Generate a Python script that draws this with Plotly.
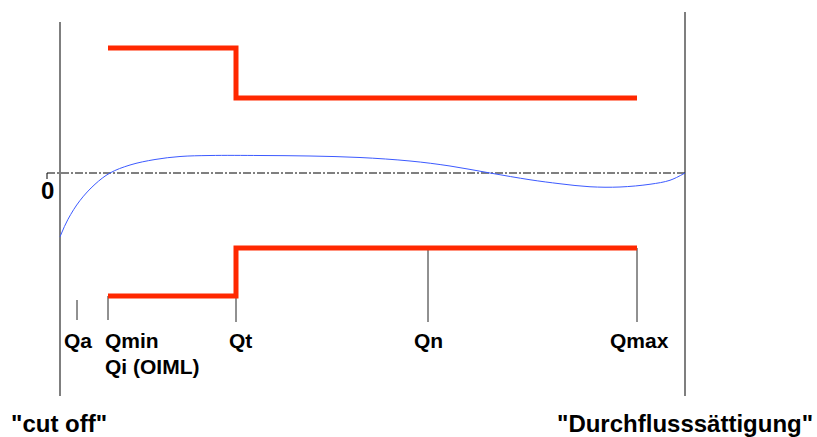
import plotly.graph_objects as go

# Schematic flow positions (arbitrary flow axis units)
flow_names = ["Qa", "Qmin", "Qt", "Qn", "Qmax"]
flow_pos = [77, 108, 236, 428, 637]
x_cutoff = 60
x_saturation = 685

# Error limits (%)
upper_limit_low = 5.0   # between Qmin and Qt
upper_limit_high = 3.0  # between Qt and Qmax
lower_limit_low = -4.92
lower_limit_high = -3.0

# Typical meter error curve (%)
curve_x = [60, 68, 80, 95, 110, 130, 155, 180, 210, 260, 310, 360, 410, 450, 490, 530, 560, 590, 620, 650, 670, 685]
curve_y = [-2.55, -1.85, -1.1, -0.45, 0.0, 0.32, 0.54, 0.66, 0.70, 0.70, 0.68, 0.62, 0.48, 0.28, 0.0, -0.27, -0.43, -0.55, -0.56, -0.45, -0.29, 0.0]

RED = "rgb(255,40,0)"
FONT = "Liberation Sans, Arial, sans-serif"

fig = go.Figure()

qmin, qt, qmax = flow_pos[1], flow_pos[2], flow_pos[4]

# boundary lines
fig.add_trace(go.Scatter(x=[x_cutoff, x_cutoff], y=[6.04, -8.92], mode="lines",
                         line=dict(color="#555555", width=1.5), hoverinfo="skip"))
fig.add_trace(go.Scatter(x=[x_saturation, x_saturation], y=[6.44, -8.92], mode="lines",
                         line=dict(color="#555555", width=1.5), hoverinfo="skip"))

# zero line
fig.add_trace(go.Scatter(x=[47, x_saturation], y=[0, 0], mode="lines",
                         line=dict(color="black", width=1, dash="8px,2px,2px,2px"), hoverinfo="skip"))
fig.add_trace(go.Scatter(x=[47, 47], y=[-0.24, 0], mode="lines",
                         line=dict(color="black", width=1), hoverinfo="skip"))

# flow tick lines
tick_tops = [-5.08, lower_limit_low, lower_limit_low, lower_limit_high, lower_limit_high]
tick_bottoms = [-5.88, -5.88, -5.96, -5.96, -5.96]
for xp, t, b in zip(flow_pos, tick_tops, tick_bottoms):
    fig.add_trace(go.Scatter(x=[xp, xp], y=[t, b], mode="lines",
                             line=dict(color="#222222", width=1), hoverinfo="skip"))

# error limits
fig.add_trace(go.Scatter(x=[qmin, qt, qt, qmax],
                         y=[upper_limit_low, upper_limit_low, upper_limit_high, upper_limit_high],
                         mode="lines", line=dict(color=RED, width=5), hoverinfo="skip"))
fig.add_trace(go.Scatter(x=[qmin, qt, qt, qmax],
                         y=[lower_limit_low, lower_limit_low, lower_limit_high, lower_limit_high],
                         mode="lines", line=dict(color=RED, width=5), hoverinfo="skip"))

# error curve
fig.add_trace(go.Scatter(x=curve_x, y=curve_y, mode="lines", line_shape="spline",
                         line=dict(color="rgb(60,90,255)", width=1), hoverinfo="skip"))

def ann(text, x, y, size, xanchor="center"):
    fig.add_annotation(x=x, y=y, text=text, showarrow=False, xanchor=xanchor, yanchor="middle",
                       font=dict(family=FONT, size=size, color="black", weight="bold"))

ann("Qa", 78, -6.68, 21)
ann("Qmin", 103, -6.68, 21, "left")
ann("Qi (OIML)", 103, -7.72, 21, "left")
ann("Qt", 240, -6.68, 21)
ann("Qn", 428, -6.68, 21)
ann("Qmax", 639, -6.68, 21)
ann("0", 47, -0.68, 24)
ann("\"cut off\"", 9, -10.0, 24, "left")
ann("\"Durchflusssättigung\"", 555, -10.0, 24, "left")

fig.update_layout(
    width=817, height=437,
    margin=dict(l=0, r=0, t=0, b=0),
    paper_bgcolor="white", plot_bgcolor="white",
    showlegend=False,
    xaxis=dict(range=[0, 817], visible=False, fixedrange=True),
    yaxis=dict(range=[-10.56, 6.92], visible=False, fixedrange=True),
)

fig.write_html("out.html", config={"displayModeBar": False},
               post_script="document.body.style.margin='0';document.body.style.overflow='hidden';")
